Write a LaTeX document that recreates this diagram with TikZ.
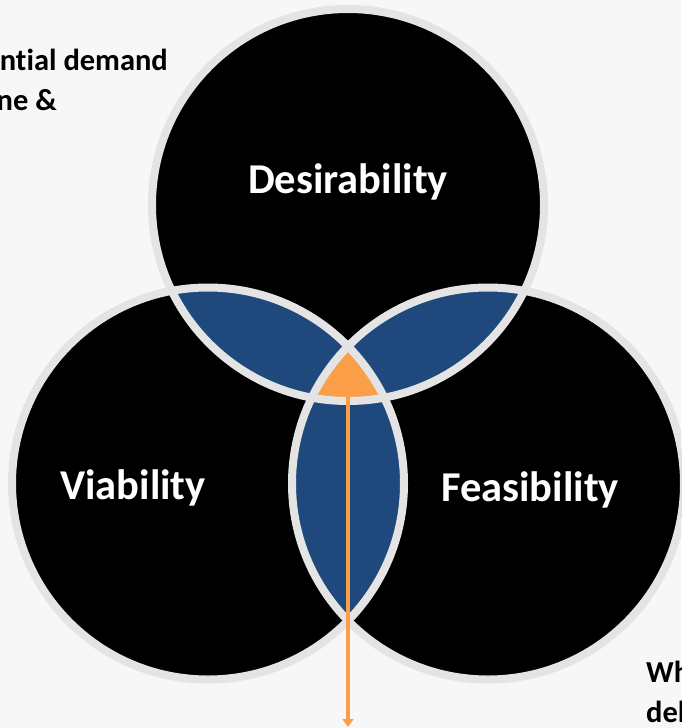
\documentclass[tikz,border=0pt]{standalone}
\usepackage{fontspec}
\setmainfont{Carlito}[Ligatures=CommonOff]
\usetikzlibrary{arrows.meta}
\definecolor{bg}{RGB}{247,247,247}
\definecolor{ring}{RGB}{228,228,228}
\definecolor{lensblue}{RGB}{31,73,125}
\definecolor{midorange}{RGB}{250,158,72}
\tikzset{
  ringline/.style={draw=ring, line width=8pt},
  bigfill/.style={fill=black},
  bigtext/.style={text=white, font=\bfseries\fontsize{42.5}{50}\selectfont, inner sep=0pt},
  sidetext/.style={text=black, font=\bfseries\fontsize{30.5}{36}\selectfont, inner sep=0pt},
  pointer/.style={draw=midorange, line width=4.5pt, -{Triangle[width=11pt,length=8pt]}}
}
\begin{document}
\begin{tikzpicture}[x=1pt,y=-1pt]
\useasboundingbox (0,0) rectangle (681,728);
\fill[bg] (0,0) rectangle (681,728);
\clip (0,0) rectangle (681,728);
\coordinate (T) at (348,205);
\coordinate (L) at (208,483.5);
\coordinate (R) at (488,483.5);
\def\rr{196pt}
% circles
\fill[bigfill] (T) circle[radius=\rr];
\fill[bigfill] (L) circle[radius=\rr];
\fill[bigfill] (R) circle[radius=\rr];
% lenses
\begin{scope}\clip (T) circle[radius=\rr]; \fill[lensblue] (L) circle[radius=\rr]; \end{scope}
\begin{scope}\clip (T) circle[radius=\rr]; \fill[lensblue] (R) circle[radius=\rr]; \end{scope}
\begin{scope}\clip (L) circle[radius=\rr]; \fill[lensblue] (R) circle[radius=\rr]; \end{scope}
% centre
\begin{scope}\clip (T) circle[radius=\rr]; \clip (L) circle[radius=\rr]; \fill[midorange] (R) circle[radius=\rr]; \end{scope}
% outlines
\draw[ringline] (T) circle[radius=\rr];
\draw[ringline] (L) circle[radius=\rr];
\draw[ringline] (R) circle[radius=\rr];
% labels
\node[bigtext] (des) at (348,182) {Desirability};
\node[bigtext] (via) at (133,488) {Viability};
\node[bigtext] (fea) at (530,490) {Feasibility};
\node[sidetext, anchor=base east] (tl1) at (168,70) {ntial demand};
\node[sidetext, anchor=base east] (tl2) at (57,110) {ne \&};
\node[sidetext, anchor=base west] (br1) at (646,682) {Wh};
\node[sidetext, anchor=base west] (br2) at (646,722) {del};
% arrow
\coordinate (start) at (348,380);
\coordinate (stop) at (348,727);
\draw[pointer] (start) -- (stop);
\end{tikzpicture}
\end{document}
